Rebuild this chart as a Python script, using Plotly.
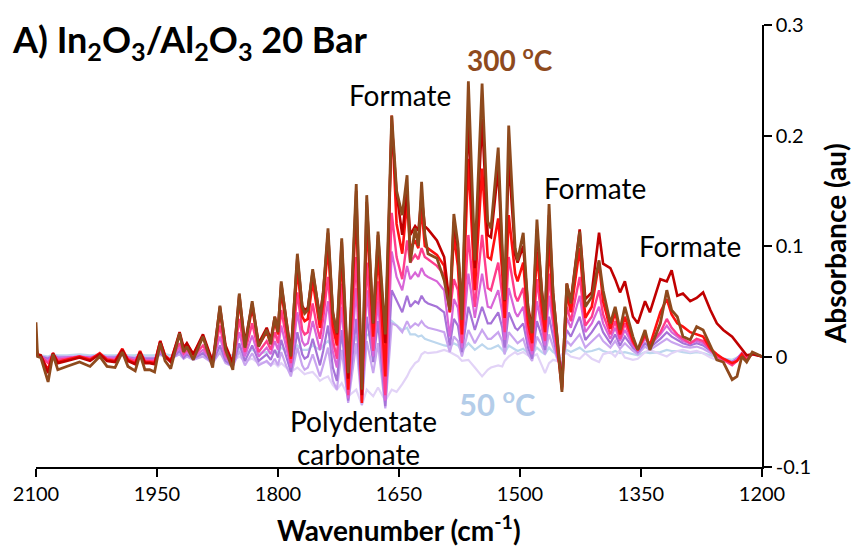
import plotly.graph_objects as go

# Wavenumber grid (cm-1), shared by all spectra
WN = [2100, 2098, 2094, 2085, 2079, 2073, 2062, 2046, 2033, 2021,
      2012, 2002, 1993, 1986, 1977, 1971, 1965, 1959, 1953, 1946,
      1940, 1933, 1922, 1917, 1913, 1905, 1893, 1881, 1872, 1865,
      1856, 1848, 1841, 1832, 1824, 1814, 1809, 1804, 1800, 1796,
      1790, 1784, 1776, 1770, 1767, 1763, 1757, 1752, 1748, 1744,
      1738, 1732, 1727, 1721, 1713, 1703, 1696, 1690, 1682, 1676,
      1667, 1659, 1653, 1646, 1640, 1636, 1630, 1626, 1622, 1618,
      1614, 1603, 1594, 1587, 1582, 1577, 1572, 1564, 1556, 1547,
      1540, 1536, 1527, 1522, 1519, 1514, 1506, 1503, 1496, 1490,
      1485, 1479, 1473, 1469, 1464, 1459, 1454, 1448, 1442, 1437,
      1426, 1419, 1411, 1402, 1397, 1388, 1382, 1376, 1370, 1360,
      1354, 1345, 1339, 1326, 1318, 1312, 1305, 1298, 1289, 1281,
      1273, 1264, 1256, 1248, 1237, 1231, 1225, 1219, 1212, 1200]

# Absorbance spectra (au) at each temperature
A_50 = [0.004, 0.001, 0.001, 0.000, 0.002, 0.001, 0.001, 0.002, 0.001, 0.002,
        0.001, 0.001, 0.002, 0.001, 0.001, 0.002, 0.001, 0.001, 0.001, 0.003,
        0.002, 0.001, 0.004, 0.002, 0.003, 0.002, 0.003, 0.001, 0.006, 0.002,
        0.001, 0.007, 0.003, 0.006, 0.003, 0.004, 0.003, 0.005, 0.004, 0.008,
        0.005, 0.002, 0.010, 0.006, 0.006, 0.006, 0.010, 0.008, 0.006, 0.010,
        0.014, 0.008, 0.006, 0.014, 0.000, 0.018, 0.002, 0.020, 0.018, 0.024,
        0.018, 0.032, 0.028, 0.024, 0.026, 0.020, 0.020, 0.018, 0.019, 0.016,
        0.015, 0.012, 0.010, 0.009, 0.012, 0.010, 0.005, 0.012, 0.006, 0.011,
        0.007, 0.007, 0.010, 0.006, 0.003, 0.010, 0.006, 0.005, 0.007, 0.003,
        0.002, 0.008, 0.004, 0.002, 0.008, 0.004, 0.002, -0.002, 0.006, 0.004,
        0.008, 0.004, 0.005, 0.007, 0.005, 0.003, 0.005, 0.003, 0.004, 0.002,
        0.001, 0.004, 0.003, 0.004, 0.006, 0.005, 0.005, 0.004, 0.003, 0.004,
        0.003, 0.001, 0.000, -0.002, -0.003, -0.001, 0.002, 0.000, 0.002, 0.000]

A_75 = [0.002, 0.000, 0.000, -0.002, 0.001, -0.001, 0.000, 0.000, -0.001, 0.001,
        0.000, -0.001, 0.001, 0.000, -0.001, 0.001, -0.001, -0.001, -0.001, 0.001,
        0.000, -0.001, 0.002, 0.000, 0.001, -0.001, 0.001, -0.003, 0.003, -0.002,
        -0.004, 0.000, -0.004, -0.002, -0.006, -0.005, -0.008, -0.006, -0.009, -0.006,
        -0.010, -0.014, -0.010, -0.014, -0.016, -0.015, -0.014, -0.018, -0.022, -0.020,
        -0.018, -0.026, -0.030, -0.024, -0.036, -0.030, -0.044, -0.030, -0.036, -0.028,
        -0.040, -0.030, -0.032, -0.025, -0.018, -0.012, -0.006, -0.004, 0.002, 0.004,
        0.003, 0.004, 0.006, 0.004, 0.002, 0.000, -0.004, -0.003, -0.010, -0.018,
        -0.012, -0.010, -0.008, -0.009, -0.004, 0.000, 0.004, 0.002, 0.004, 0.001,
        0.000, 0.002, -0.008, -0.015, -0.006, -0.003, -0.004, 0.002, 0.003, 0.000,
        -0.002, 0.003, -0.002, -0.005, 0.002, 0.004, 0.000, 0.006, -0.001, -0.003,
        -0.002, 0.004, 0.006, 0.002, 0.000, 0.003, 0.005, 0.006, 0.004, 0.005,
        0.003, -0.001, -0.003, -0.005, -0.004, -0.002, 0.001, -0.002, 0.002, 0.000]

A_100 = [0.002, 0.001, 0.000, -0.001, 0.001, 0.000, 0.000, 0.000, 0.000, 0.001,
         0.000, 0.000, 0.001, 0.000, -0.001, 0.001, -0.001, -0.001, -0.001, 0.002,
         0.000, -0.002, 0.002, -0.002, 0.000, -0.003, 0.000, -0.006, 0.004, -0.006,
         -0.009, 0.005, -0.008, 0.003, -0.008, -0.004, -0.008, -0.002, -0.008, 0.004,
         -0.008, -0.018, 0.008, -0.008, -0.012, -0.010, 0.002, -0.010, -0.018, -0.008,
         0.008, -0.022, -0.030, 0.006, -0.042, 0.012, -0.044, 0.014, -0.015, 0.012,
         -0.047, 0.030, 0.028, 0.022, 0.032, 0.026, 0.030, 0.028, 0.032, 0.028,
         0.026, 0.024, 0.022, 0.004, 0.018, 0.014, 0.000, 0.024, 0.012, 0.024,
         0.016, 0.016, 0.022, 0.014, 0.002, 0.022, 0.014, 0.012, 0.016, 0.002,
         -0.004, 0.018, 0.010, 0.002, 0.020, 0.010, -0.002, -0.008, 0.014, 0.010,
         0.020, 0.008, 0.014, 0.020, 0.014, 0.008, 0.014, 0.007, 0.012, 0.005,
         0.002, 0.009, 0.006, 0.012, 0.016, 0.013, 0.011, 0.009, 0.008, 0.009,
         0.007, 0.003, 0.000, -0.003, -0.005, -0.002, 0.002, -0.001, 0.002, 0.000]

A_150 = [0.002, 0.001, 0.000, -0.002, 0.001, -0.001, -0.001, 0.000, -0.001, 0.001,
         -0.001, -0.001, 0.002, -0.001, -0.002, 0.001, -0.002, -0.002, -0.002, 0.003,
         -0.001, -0.003, 0.005, -0.001, 0.002, -0.002, 0.003, -0.006, 0.010, -0.004,
         -0.009, 0.012, -0.004, 0.010, -0.004, 0.002, -0.003, 0.006, -0.001, 0.015,
         0.000, -0.014, 0.022, 0.002, -0.002, 0.000, 0.016, 0.002, -0.008, 0.005,
         0.028, -0.010, -0.022, 0.024, -0.040, 0.034, -0.042, 0.036, -0.005, 0.032,
         -0.045, 0.060, 0.050, 0.040, 0.055, 0.045, 0.050, 0.048, 0.055, 0.050,
         0.048, 0.045, 0.040, 0.010, 0.034, 0.028, 0.004, 0.045, 0.024, 0.045,
         0.030, 0.030, 0.040, 0.026, 0.008, 0.040, 0.026, 0.024, 0.030, 0.008,
         -0.002, 0.032, 0.018, 0.006, 0.036, 0.018, 0.000, -0.010, 0.024, 0.018,
         0.036, 0.015, 0.022, 0.032, 0.022, 0.012, 0.020, 0.010, 0.018, 0.008,
         0.004, 0.012, 0.008, 0.016, 0.022, 0.018, 0.015, 0.012, 0.010, 0.012,
         0.010, 0.005, 0.001, -0.002, -0.005, -0.002, 0.003, -0.001, 0.003, 0.000]

A_200 = [0.003, 0.001, 0.000, -0.004, 0.001, -0.002, -0.001, 0.000, -0.001, 0.001,
         -0.001, -0.002, 0.003, -0.001, -0.003, 0.002, -0.003, -0.003, -0.003, 0.005,
         -0.001, -0.003, 0.008, 0.001, 0.004, -0.001, 0.006, -0.005, 0.018, -0.001,
         -0.008, 0.022, 0.000, 0.019, 0.000, 0.008, 0.002, 0.014, 0.006, 0.028,
         0.010, -0.010, 0.040, 0.014, 0.010, 0.012, 0.032, 0.016, 0.006, 0.020,
         0.050, 0.004, -0.010, 0.045, -0.038, 0.062, -0.040, 0.060, 0.000, 0.050,
         -0.040, 0.095, 0.072, 0.060, 0.082, 0.070, 0.076, 0.072, 0.080, 0.074,
         0.072, 0.068, 0.060, 0.018, 0.052, 0.044, 0.008, 0.075, 0.035, 0.075,
         0.045, 0.044, 0.060, 0.040, 0.015, 0.062, 0.040, 0.036, 0.045, 0.014,
         0.002, 0.050, 0.026, 0.010, 0.055, 0.026, 0.002, -0.015, 0.035, 0.026,
         0.055, 0.022, 0.030, 0.045, 0.030, 0.016, 0.026, 0.014, 0.024, 0.010,
         0.005, 0.016, 0.010, 0.020, 0.028, 0.022, 0.018, 0.014, 0.012, 0.014,
         0.012, 0.006, 0.001, -0.002, -0.006, -0.002, 0.003, -0.001, 0.003, 0.000]

A_225 = [0.004, 0.001, 0.000, -0.006, 0.002, -0.003, -0.002, 0.000, -0.002, 0.002,
         -0.002, -0.003, 0.004, -0.002, -0.004, 0.003, -0.004, -0.004, -0.004, 0.008,
         -0.001, -0.003, 0.012, 0.003, 0.006, 0.000, 0.010, -0.005, 0.028, 0.002,
         -0.008, 0.034, 0.004, 0.030, 0.004, 0.014, 0.006, 0.022, 0.012, 0.042,
         0.018, -0.006, 0.058, 0.024, 0.020, 0.022, 0.048, 0.028, 0.016, 0.034,
         0.072, 0.015, -0.002, 0.066, -0.035, 0.090, -0.040, 0.085, 0.005, 0.068,
         -0.035, 0.130, 0.090, 0.070, 0.105, 0.085, 0.092, 0.088, 0.098, 0.090,
         0.088, 0.082, 0.074, 0.040, 0.070, 0.060, 0.012, 0.110, 0.045, 0.110,
         0.062, 0.060, 0.085, 0.055, 0.022, 0.090, 0.055, 0.050, 0.062, 0.020,
         0.005, 0.070, 0.034, 0.014, 0.075, 0.034, 0.004, -0.020, 0.045, 0.032,
         0.072, 0.028, 0.036, 0.060, 0.038, 0.020, 0.032, 0.016, 0.030, 0.012,
         0.006, 0.018, 0.010, 0.022, 0.034, 0.026, 0.020, 0.016, 0.012, 0.016,
         0.014, 0.006, 0.000, -0.003, -0.008, -0.004, 0.002, -0.002, 0.003, 0.000]

A_250 = [0.008, 0.001, 0.000, -0.012, 0.003, -0.005, -0.003, 0.000, -0.003, 0.003,
         -0.003, -0.004, 0.007, -0.003, -0.006, 0.005, -0.005, -0.005, -0.006, 0.014,
         0.001, -0.004, 0.020, 0.007, 0.011, 0.002, 0.018, -0.006, 0.040, 0.008,
         -0.008, 0.050, 0.009, 0.044, 0.010, 0.022, 0.012, 0.032, 0.020, 0.060,
         0.028, -0.002, 0.080, 0.036, 0.032, 0.034, 0.068, 0.042, 0.026, 0.048,
         0.100, 0.028, 0.010, 0.092, -0.030, 0.135, -0.042, 0.125, 0.018, 0.095,
         -0.018, 0.218, 0.120, 0.093, 0.140, 0.098, 0.105, 0.098, 0.135, 0.100,
         0.098, 0.092, 0.082, 0.040, 0.110, 0.082, 0.020, 0.179, 0.060, 0.170,
         0.090, 0.088, 0.125, 0.075, 0.035, 0.128, 0.075, 0.068, 0.085, 0.030,
         0.012, 0.095, 0.045, 0.022, 0.105, 0.045, 0.010, -0.030, 0.058, 0.040,
         0.098, 0.035, 0.045, 0.085, 0.050, 0.025, 0.040, 0.020, 0.036, 0.014,
         0.006, 0.020, 0.010, 0.040, 0.052, 0.038, 0.030, 0.027, 0.022, 0.020,
         0.018, 0.007, 0.002, -0.002, -0.006, -0.004, 0.002, -0.004, 0.003, 0.000]

A_275 = [0.010, 0.002, 0.001, -0.015, 0.003, -0.006, -0.004, -0.001, -0.004, 0.002,
         -0.004, -0.005, 0.006, -0.004, -0.007, 0.004, -0.006, -0.006, -0.007, 0.014,
         0.000, -0.005, 0.022, 0.008, 0.012, 0.002, 0.020, -0.005, 0.045, 0.010,
         -0.006, 0.056, 0.012, 0.048, 0.012, 0.026, 0.015, 0.036, 0.025, 0.066,
         0.035, 0.004, 0.090, 0.046, 0.042, 0.044, 0.077, 0.053, 0.036, 0.058,
         0.112, 0.040, 0.020, 0.104, -0.020, 0.150, -0.035, 0.140, 0.030, 0.110,
         0.012, 0.210, 0.148, 0.110, 0.150, 0.110, 0.118, 0.114, 0.145, 0.118,
         0.115, 0.105, 0.090, 0.045, 0.122, 0.098, 0.040, 0.215, 0.080, 0.215,
         0.110, 0.108, 0.170, 0.092, 0.050, 0.180, 0.092, 0.085, 0.100, 0.045,
         0.025, 0.115, 0.060, 0.035, 0.128, 0.058, 0.020, -0.028, 0.066, 0.050,
         0.115, 0.052, 0.058, 0.112, 0.084, 0.080, 0.070, 0.058, 0.068, 0.036,
         0.030, 0.050, 0.040, 0.070, 0.068, 0.078, 0.055, 0.057, 0.050, 0.053,
         0.058, 0.042, 0.030, 0.024, 0.018, 0.012, 0.006, 0.001, 0.002, 0.000]

A_300 = [0.031, 0.000, -0.001, -0.023, 0.002, -0.012, -0.009, -0.005, -0.009, 0.000,
         -0.009, -0.010, 0.004, -0.009, -0.013, 0.002, -0.012, -0.012, -0.014, 0.012,
         -0.004, -0.011, 0.021, 0.004, 0.009, -0.003, 0.018, -0.010, 0.046, 0.006,
         -0.012, 0.057, 0.008, 0.050, 0.009, 0.024, 0.011, 0.036, 0.022, 0.068,
         0.033, 0.000, 0.093, 0.045, 0.039, 0.042, 0.079, 0.051, 0.033, 0.057,
         0.116, 0.039, 0.021, 0.107, -0.015, 0.156, -0.030, 0.146, 0.030, 0.113,
         0.020, 0.218, 0.150, 0.128, 0.164, 0.085, 0.116, 0.100, 0.158, 0.111,
         0.093, 0.089, 0.069, 0.042, 0.129, 0.102, 0.033, 0.249, 0.087, 0.247,
         0.122, 0.116, 0.189, 0.098, 0.051, 0.209, 0.098, 0.087, 0.112, 0.042,
         0.021, 0.124, 0.057, 0.033, 0.138, 0.057, 0.018, -0.032, 0.066, 0.048,
         0.113, 0.045, 0.054, 0.087, 0.060, 0.030, 0.045, 0.024, 0.045, 0.018,
         0.006, 0.024, 0.006, 0.030, 0.060, 0.042, 0.036, 0.018, 0.015, 0.027,
         0.024, 0.009, -0.003, -0.005, -0.021, -0.018, 0.000, -0.005, 0.004, 0.000]

X_TICKS = [2100, 1950, 1800, 1650, 1500, 1350, 1200]
Y_TICKS = [-0.1, 0, 0.1, 0.2, 0.3]
Y_TICK_TEXT = ["-0.1", "0", "0.1", "0.2", "0.3"]

FONT = "Lato"

series = [
    (A_50, "#bdd7ee", 2.2),
    (A_75, "#e2d3f7", 2.2),
    (A_100, "#c9a5ef", 2.2),
    (A_150, "#a673d8", 2.2),
    (A_200, "#d866d8", 2.2),
    (A_225, "#ff3d8b", 2.4),
    (A_250, "#ff1010", 2.6),
    (A_275, "#c00000", 2.6),
    (A_300, "#8e4a1d", 2.8),
]

fig = go.Figure()
for vals, color, width in series:
    fig.add_trace(go.Scatter(
        x=WN, y=vals, mode="lines",
        line=dict(color=color, width=width),
        hoverinfo="skip", showlegend=False,
    ))

axis_common = dict(
    showgrid=False, zeroline=False, showline=True,
    linecolor="black", linewidth=1.5,
    ticks="outside", ticklen=8, tickwidth=1.5, tickcolor="black",
    tickfont=dict(family=FONT, size=20, color="black"),
)

fig.update_layout(
    width=852, height=551,
    margin=dict(l=36, r=90, t=18, b=84),
    paper_bgcolor="white", plot_bgcolor="white",
    xaxis=dict(range=[2100, 1200], tickvals=X_TICKS,
               ticktext=[str(v) for v in X_TICKS], **axis_common),
    yaxis=dict(range=[-0.1, 0.3], side="right", tickvals=Y_TICKS,
               ticktext=Y_TICK_TEXT, **axis_common),
)

def label(text, x, y, size, color="black", bold=False, ref="data", **kw):
    t = f"<b>{text}</b>" if bold else text
    opts = dict(text=t, x=x, y=y, showarrow=False,
                font=dict(family=FONT, size=size, color=color))
    if ref == "paper":
        opts.update(xref="paper", yref="paper")
    opts.update(kw)
    fig.add_annotation(**opts)

# chart title and axis titles
label("A) In<sub>2</sub>O<sub>3</sub>/Al<sub>2</sub>O<sub>3</sub> 20 Bar",
      -0.036, 0.962, 36, bold=True, ref="paper", xanchor="left", yanchor="middle")
label("Wavenumber (cm<sup>-1</sup>)", 0.5, -0.14, 28, bold=True, ref="paper",
      xanchor="center", yanchor="middle")
label("Absorbance (au)", 1.1, 0.5056, 28, bold=True, ref="paper",
      xanchor="center", yanchor="middle", textangle=-90)

# band assignments and temperature labels
label("Formate", 1648.7, 0.2366, 28)
label("300 <sup>o</sup>C", 1512.4, 0.270, 28, color="#8e4a1d", bold=True)
label("Formate", 1407, 0.1527, 28)
label("Formate", 1289.2, 0.100, 28)
label("Polydentate", 1694.6, -0.058, 28)
label("carbonate", 1700.8, -0.0884, 28)
label("50 <sup>o</sup>C", 1528.5, -0.042, 31, color="#b4cde9", bold=True)

fig.write_html("out.html")
